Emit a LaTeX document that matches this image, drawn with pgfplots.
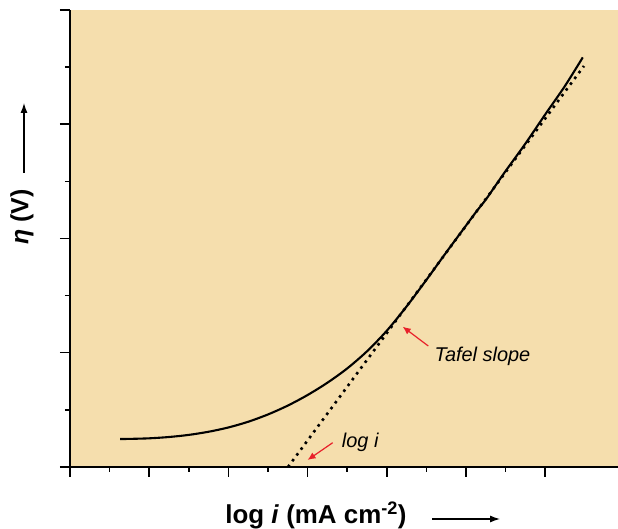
\documentclass[border=0pt]{standalone}
\usepackage{fontspec}
\setmainfont{Liberation Sans}
\usepackage{pgfplots}
\pgfplotsset{compat=1.18}
\usetikzlibrary{arrows.meta}
\definecolor{bgtan}{RGB}{245,222,173}
\definecolor{arrred}{RGB}{232,32,42}
\begin{document}
\begin{tikzpicture}[x=1bp,y=1bp]
\path[use as bounding box] (-70,-62) rectangle (548,467);
\begin{axis}[at={(0,0)}, anchor=south west, scale only axis, width=548bp, height=457bp,
 xmin=0, xmax=13.84, ymin=0, ymax=8,
 axis x line*=bottom, axis y line*=left,
 axis line style={line width=1.5bp, -},
 axis background/.style={fill=bgtan},
 xtick={0,2,...,12}, ytick={0,2,4,6,8},
 minor x tick num=1, minor y tick num=1,
 xticklabels={}, yticklabels={},
 tick align=outside, major tick length=10bp, minor tick length=5bp,
 every tick/.style={black, line width=1.5bp},
 clip=false]
\addplot[black, line width=2.1bp, smooth, tension=0.5] coordinates {
(1.263,0.49) (1.5,0.492) (2.0,0.502) (2.5,0.525) (3.0,0.562) (3.5,0.617) (4.0,0.692)
(4.5,0.792) (5.0,0.92) (5.5,1.075) (6.0,1.26) (6.5,1.475) (7.0,1.725) (7.5,2.025)
(8.0,2.385) (8.5,2.81) (9.0,3.275) (9.5,3.755) (10.0,4.225) (10.25,4.46)
(10.5,4.68) (10.75,4.93) (11.0,5.18) (11.5,5.66) (12.0,6.17) (12.5,6.67) (12.95,7.17)};
\addplot[black, line width=2.6bp, dash pattern=on 2.6bp off 4.6bp] coordinates {
(5.505,0) (12.98,7.02)};
\draw[arrred, line width=1.2bp, -{Latex[length=8bp,width=7bp]}] (axis cs:9.048,2.118) -- (axis cs:8.402,2.456);
\draw[arrred, line width=1.2bp, -{Latex[length=8bp,width=7bp]}] (axis cs:6.634,0.425) -- (axis cs:6.0,0.1225);
\node[anchor=west, font={\fontsize{20}{24}\selectfont\itshape}] at (axis cs:9.12,1.93) {Tafel slope};
\node[anchor=west, font={\fontsize{20}{24}\selectfont\itshape}] at (axis cs:6.78,0.43) {log i};
\end{axis}
\node[rotate=90, font={\fontsize{25}{30}\selectfont\bfseries}] at (-48,250) {\textit{η} (V)};
\draw[line width=1.2bp, -{Latex[length=10bp,width=7bp]}] (-46,294) -- (-46,364);
\node[font={\fontsize{26}{31}\selectfont\bfseries}] at (246,-48) {log \textit{i} (mA cm\textsuperscript{-2})};
\draw[line width=1.2bp, -{Latex[length=10bp,width=7bp]}] (362,-52) -- (430,-52);
\end{tikzpicture}
\end{document}
